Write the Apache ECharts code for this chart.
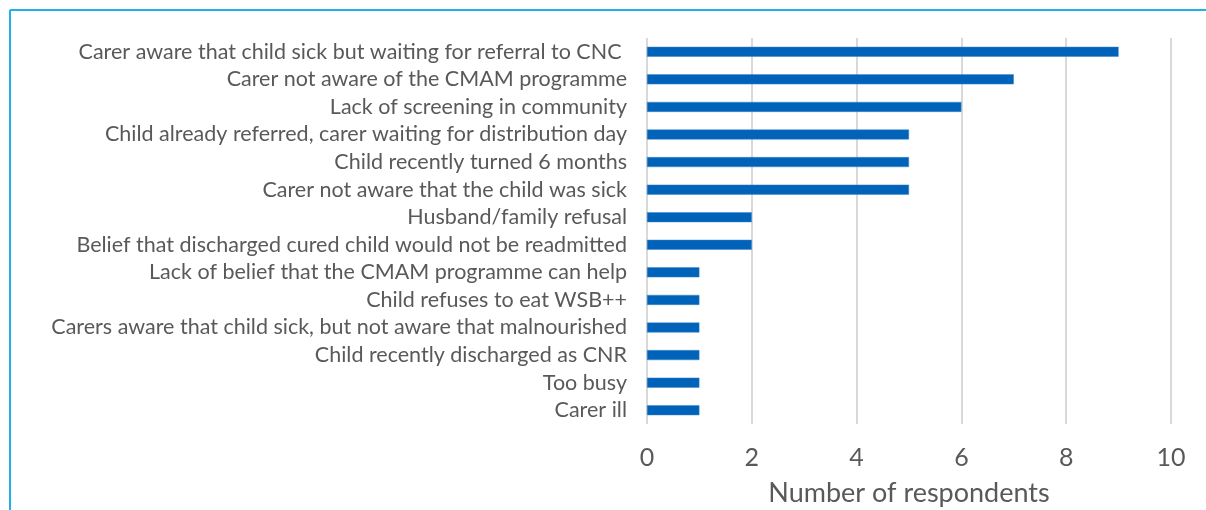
<!DOCTYPE html>
<html>
<head>
<meta charset="utf-8">
<script src="https://cdn.jsdelivr.net/npm/echarts@6/dist/echarts.min.js"></script>
<style>
  html, body { margin: 0; padding: 0; background: #fff; }
  #chart { width: 1206px; height: 510px; }
</style>
</head>
<body>
<div id="chart"></div>
<script>
// Reasons for non-attendance, listed top to bottom
const reasons = [
  'Carer aware that child sick but waiting for referral to CNC ',
  'Carer not aware of the CMAM programme',
  'Lack of screening in community',
  'Child already referred, carer waiting for distribution day',
  'Child recently turned 6 months',
  'Carer not aware that the child was sick',
  'Husband/family refusal',
  'Belief that discharged cured child would not be readmitted',
  'Lack of belief that the CMAM programme can help',
  'Child refuses to eat WSB++',
  'Carers aware that child sick, but not aware that malnourished',
  'Child recently discharged as CNR',
  'Too busy',
  'Carer ill'
];
const respondents = [9, 7, 6, 5, 5, 5, 2, 2, 1, 1, 1, 1, 1, 1];
const axisTitle = 'Number of respondents';

const chart = echarts.init(document.getElementById('chart'), null, { renderer: 'canvas' });
const font = 'Lato, "Noto Sans", sans-serif';

chart.setOption({
  animation: false,
  graphic: [
    { type: 'line', shape: { x1: 10, y1: 10, x2: 1206, y2: 10 }, style: { stroke: '#1eb1ec', lineWidth: 2 } },
    { type: 'line', shape: { x1: 10, y1: 10, x2: 10, y2: 510 }, style: { stroke: '#1eb1ec', lineWidth: 2 } }
  ],
  grid: { left: 647, right: 35, top: 38, bottom: 86, containLabel: false, outerBoundsMode: 'none' },
  xAxis: {
    type: 'value',
    min: 0,
    max: 10,
    interval: 2,
    name: axisTitle,
    nameLocation: 'middle',
    nameGap: 56,
    nameTextStyle: { fontFamily: font, fontSize: 27, color: '#595959' },
    axisLine: { show: false },
    axisTick: { show: false },
    axisLabel: { fontFamily: font, fontSize: 25, color: '#595959', margin: 21 },
    splitLine: { lineStyle: { color: '#d9d9d9', width: 2 } }
  },
  yAxis: {
    type: 'category',
    data: reasons,
    inverse: true,
    axisLine: { show: false },
    axisTick: { show: false },
    axisLabel: { fontFamily: font, fontSize: 21.5, color: '#595959', margin: 20, interval: 0, hideOverlap: false }
  },
  series: [{
    type: 'bar',
    data: respondents,
    barWidth: 10,
    itemStyle: { color: '#0062b8', borderColor: '#3d86c8', borderWidth: 0.5 }
  }]
});
</script>
</body>
</html>
